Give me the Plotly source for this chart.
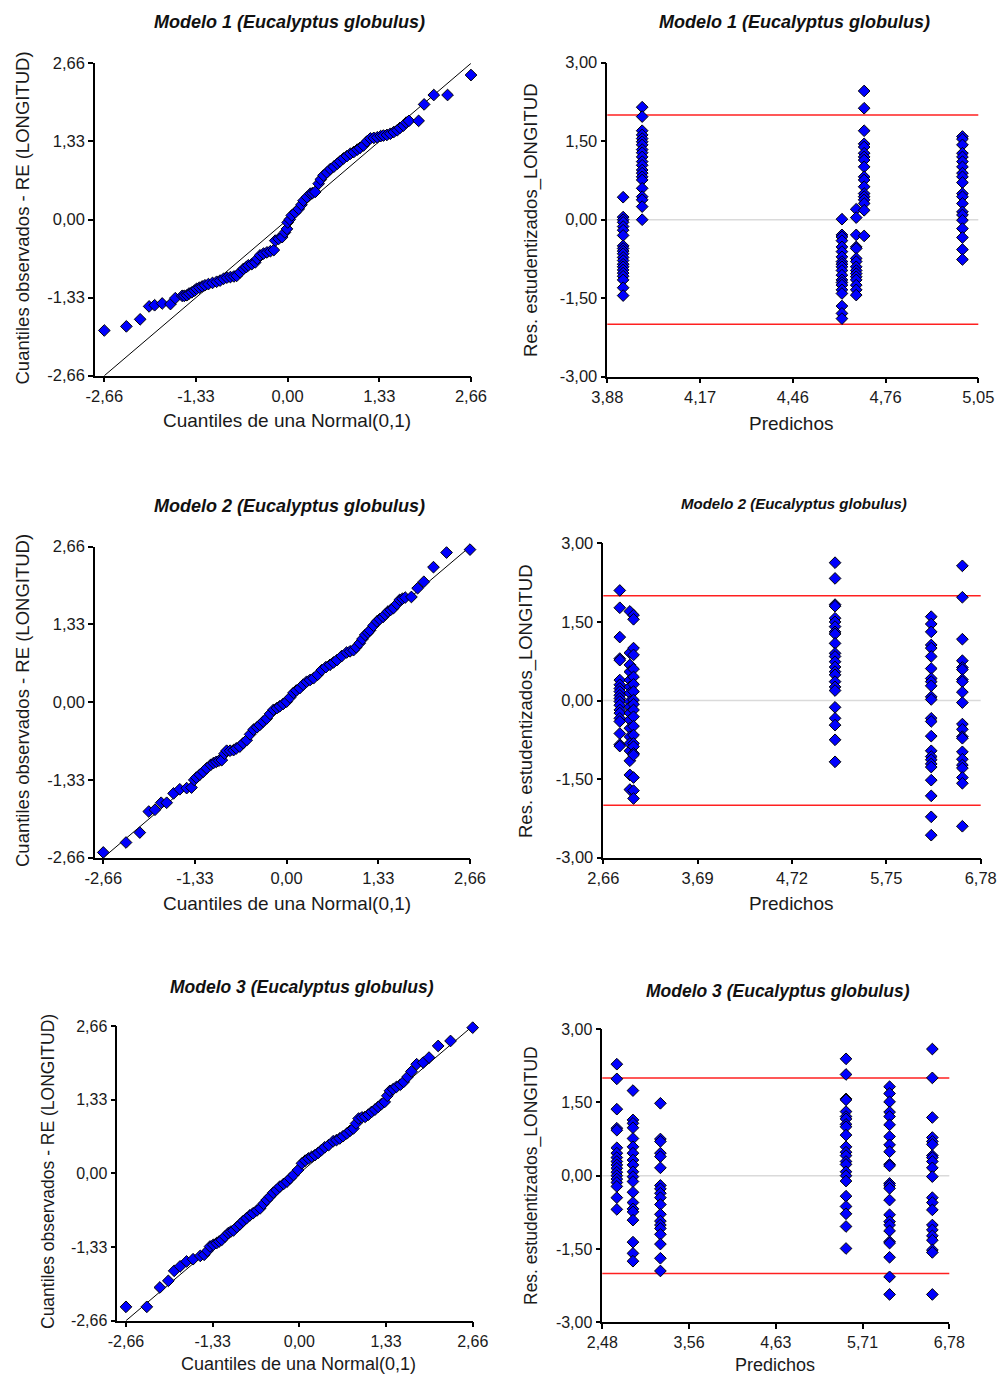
import plotly.graph_objects as go

W, H = 1000, 1375

# ---------------- data ----------------
qq_ticks = [-2.66, -1.33, 0.0, 1.33, 2.66]
qq_ticktext = ["-2,66", "-1,33", "0,00", "1,33", "2,66"]
res_yticks = [-3.0, -1.5, 0.0, 1.5, 3.0]
res_yticktext = ["-3,00", "-1,50", "0,00", "1,50", "3,00"]
qq_ref = [-2.66, 2.66]
res_limits = [-2.0, 2.0]

# Model 1 QQ: (theoretical quantile, observed quantile)
qq1_points = [
    (-2.66, -1.89), (-2.34, -1.82), (-2.14, -1.70), (-2.01, -1.48), (-1.93, -1.46),
    (-1.82, -1.43), (-1.70, -1.44), (-1.63, -1.34), (-1.53, -1.30), (-1.50, -1.30),
    (-1.46, -1.29), (-1.43, -1.26), (-1.39, -1.24), (-1.35, -1.21), (-1.32, -1.18),
    (-1.28, -1.16), (-1.24, -1.14), (-1.20, -1.12), (-1.15, -1.10), (-1.09, -1.08),
    (-1.03, -1.06), (-0.98, -1.04), (-0.93, -1.01), (-0.88, -0.99), (-0.83, -0.98),
    (-0.78, -0.97), (-0.74, -0.96), (-0.69, -0.90), (-0.64, -0.84), (-0.60, -0.81),
    (-0.57, -0.78), (-0.52, -0.76), (-0.47, -0.73), (-0.44, -0.67), (-0.40, -0.61),
    (-0.35, -0.58), (-0.30, -0.56), (-0.25, -0.54), (-0.20, -0.52), (-0.18, -0.36),
    (-0.13, -0.33), (-0.08, -0.30), (-0.04, -0.22), (-0.01, -0.16), (0.00, -0.05),
    (0.03, 0.00), (0.06, 0.07), (0.11, 0.12), (0.16, 0.18), (0.20, 0.25),
    (0.23, 0.32), (0.28, 0.38), (0.33, 0.44), (0.36, 0.45), (0.40, 0.47),
    (0.45, 0.61), (0.48, 0.68), (0.52, 0.75), (0.57, 0.80), (0.62, 0.86),
    (0.67, 0.90), (0.72, 0.95), (0.76, 0.99), (0.81, 1.04), (0.86, 1.08),
    (0.91, 1.12), (0.96, 1.15), (1.01, 1.19), (1.05, 1.22), (1.10, 1.26),
    (1.15, 1.33), (1.20, 1.38), (1.25, 1.39), (1.30, 1.40), (1.35, 1.42),
    (1.39, 1.43), (1.44, 1.44), (1.49, 1.46), (1.54, 1.49), (1.59, 1.52),
    (1.63, 1.56), (1.68, 1.60), (1.72, 1.65), (1.76, 1.68), (1.90, 1.68),
    (1.98, 1.96), (2.12, 2.12), (2.32, 2.12), (2.66, 2.46),
]

# Model 2 QQ
qq2_points = [
    (-2.66, -2.57), (-2.33, -2.40), (-2.13, -2.23), (-2.00, -1.87), (-1.91, -1.84),
    (-1.82, -1.72), (-1.74, -1.72), (-1.64, -1.56), (-1.55, -1.49), (-1.45, -1.47),
    (-1.38, -1.46), (-1.34, -1.33), (-1.31, -1.29), (-1.26, -1.24), (-1.21, -1.19),
    (-1.16, -1.13), (-1.10, -1.07), (-1.06, -1.04), (-1.02, -1.02), (-0.98, -1.00),
    (-0.94, -0.99), (-0.90, -0.88), (-0.87, -0.83), (-0.82, -0.83), (-0.77, -0.82),
    (-0.73, -0.79), (-0.68, -0.76), (-0.63, -0.70), (-0.58, -0.65), (-0.53, -0.55),
    (-0.48, -0.47), (-0.43, -0.43), (-0.39, -0.39), (-0.34, -0.33), (-0.29, -0.28),
    (-0.24, -0.20), (-0.19, -0.13), (-0.14, -0.10), (-0.10, -0.07), (-0.05, -0.03),
    (0.00, 0.01), (0.05, 0.08), (0.10, 0.16), (0.14, 0.20), (0.19, 0.24),
    (0.24, 0.30), (0.29, 0.35), (0.34, 0.38), (0.39, 0.41), (0.45, 0.47),
    (0.51, 0.55), (0.57, 0.60), (0.63, 0.64), (0.68, 0.68), (0.73, 0.72),
    (0.80, 0.79), (0.87, 0.85), (0.92, 0.87), (0.97, 0.89), (1.01, 0.94),
    (1.06, 1.01), (1.10, 1.08), (1.14, 1.15), (1.18, 1.19), (1.21, 1.23),
    (1.26, 1.31), (1.31, 1.38), (1.35, 1.42), (1.40, 1.46), (1.43, 1.50),
    (1.47, 1.55), (1.51, 1.58), (1.55, 1.61), (1.60, 1.68), (1.64, 1.75),
    (1.68, 1.77), (1.72, 1.79), (1.81, 1.80), (1.90, 1.95), (1.99, 2.06),
    (2.13, 2.31), (2.32, 2.56), (2.66, 2.61),
]

# Model 3 QQ
qq3_points = [
    (-2.66, -2.41), (-2.34, -2.41), (-2.14, -2.06), (-2.01, -1.94), (-1.92, -1.76),
    (-1.83, -1.68), (-1.73, -1.59), (-1.63, -1.55), (-1.52, -1.49), (-1.46, -1.47),
    (-1.41, -1.40), (-1.37, -1.32), (-1.32, -1.29), (-1.27, -1.26), (-1.23, -1.23),
    (-1.19, -1.20), (-1.14, -1.14), (-1.09, -1.08), (-1.05, -1.05), (-1.01, -1.03),
    (-0.96, -0.97), (-0.91, -0.92), (-0.86, -0.86), (-0.81, -0.81), (-0.76, -0.76),
    (-0.71, -0.72), (-0.65, -0.67), (-0.60, -0.63), (-0.55, -0.55), (-0.50, -0.48),
    (-0.45, -0.42), (-0.40, -0.35), (-0.35, -0.30), (-0.30, -0.24), (-0.24, -0.19),
    (-0.19, -0.15), (-0.14, -0.09), (-0.09, -0.03), (-0.02, 0.06), (0.04, 0.18),
    (0.09, 0.23), (0.14, 0.27), (0.19, 0.30), (0.24, 0.33), (0.29, 0.37),
    (0.34, 0.42), (0.39, 0.47), (0.45, 0.51), (0.52, 0.58), (0.57, 0.60),
    (0.62, 0.63), (0.67, 0.67), (0.73, 0.72), (0.78, 0.77), (0.83, 0.81),
    (0.87, 0.90), (0.91, 0.99), (0.96, 1.01), (1.01, 1.02), (1.06, 1.06),
    (1.11, 1.11), (1.16, 1.15), (1.21, 1.20), (1.26, 1.25), (1.31, 1.29),
    (1.35, 1.40), (1.39, 1.49), (1.44, 1.52), (1.49, 1.56), (1.55, 1.60),
    (1.60, 1.65), (1.66, 1.74), (1.72, 1.84), (1.80, 1.97), (1.90, 2.00),
    (1.99, 2.09), (2.13, 2.30), (2.32, 2.39), (2.66, 2.63),
]

# Model 1 residuals vs predicted
m1_xticks = [3.88, 4.1725, 4.465, 4.7575, 5.05]
m1_xticktext = ["3,88", "4,17", "4,46", "4,76", "5,05"]
m1_pred = [3.93, 3.99, 4.62, 4.665, 4.69, 5.00]
m1_res = [
    [0.43, 0.05, 0.0, -0.05, -0.13, -0.2, -0.3, -0.5, -0.55, -0.6, -0.65, -0.72,
     -0.78, -0.85, -0.9, -0.96, -1.02, -1.08, -1.15, -1.3, -1.45],
    [2.15, 1.97, 1.70, 1.62, 1.55, 1.49, 1.43, 1.34, 1.28, 1.2, 1.11, 1.04, 0.95,
     0.89, 0.82, 0.76, 0.6, 0.44, 0.38, 0.25, 0.0],
    [0.01, -0.29, -0.33, -0.4, -0.52, -0.61, -0.71, -0.8, -0.85, -0.9, -0.97,
     -1.06, -1.15, -1.2, -1.25, -1.34, -1.41, -1.65, -1.79, -1.89],
    [0.2, 0.04, -0.29, -0.52, -0.55, -0.74, -0.8, -0.9, -0.97, -1.03, -1.09,
     -1.15, -1.25, -1.34, -1.44],
    [2.46, 2.13, 1.70, 1.45, 1.39, 1.27, 1.2, 1.14, 1.01, 0.82, 0.76, 0.63, 0.5,
     0.44, 0.38, 0.31, 0.18, -0.31],
    [1.59, 1.54, 1.43, 1.27, 1.2, 1.11, 1.01, 0.89, 0.82, 0.71, 0.5, 0.44, 0.31,
     0.15, 0.09, -0.01, -0.17, -0.34, -0.57, -0.76],
]

# Model 2 residuals vs predicted
m2_xticks = [2.66, 3.69, 4.72, 5.75, 6.78]
m2_xticktext = ["2,66", "3,69", "4,72", "5,75", "6,78"]
m2_pred = [2.84, 2.95, 2.99, 5.19, 6.24, 6.58]
m2_res = [
    [2.1, 1.77, 1.21, 0.80, 0.77, 0.39, 0.3, 0.23, 0.17, 0.1, 0.04, -0.02, -0.09,
     -0.18, -0.24, -0.34, -0.4, -0.63, -0.84, -0.87],
    [1.70, 0.91, 0.68, 0.55, 0.39, 0.26, 0.14, -0.02, -0.12, -0.24, -0.37, -0.53,
     -0.69, -0.82, -0.96, -1.15, -1.42, -1.7],
    [1.63, 1.55, 1.0, 0.87, 0.6, 0.45, 0.31, 0.17, 0.01, -0.07, -0.18, -0.31,
     -0.49, -0.66, -0.82, -0.88, -1.01, -1.04, -1.47, -1.72, -1.87],
    [2.63, 2.33, 1.83, 1.8, 1.57, 1.5, 1.41, 1.31, 1.27, 1.09, 0.9, 0.84, 0.74,
     0.64, 0.55, 0.49, 0.36, 0.26, 0.19, -0.13, -0.34, -0.47, -0.75, -1.17],
    [1.6, 1.46, 1.31, 1.06, 1.0, 0.84, 0.61, 0.42, 0.36, 0.28, 0.07, 0.02, -0.34,
     -0.4, -0.68, -0.96, -1.07, -1.13, -1.21, -1.27, -1.52, -1.82, -2.22, -2.57],
    [2.57, 1.97, 1.17, 0.76, 0.63, 0.59, 0.4, 0.36, 0.16, -0.04, -0.45, -0.55,
     -0.69, -0.72, -0.98, -1.12, -1.23, -1.29, -1.47, -1.58, -2.4],
]

# Model 3 residuals vs predicted
m3_xticks = [2.48, 3.555, 4.63, 5.705, 6.78]
m3_xticktext = ["2,48", "3,56", "4,63", "5,71", "6,78"]
m3_pred = [2.66, 2.86, 3.20, 5.50, 6.04, 6.57]
m3_res = [
    [2.28, 1.98, 1.36, 0.97, 0.93, 0.57, 0.46, 0.37, 0.29, 0.22, 0.15, 0.07, 0.0,
     -0.07, -0.14, -0.22, -0.45, -0.69],
    [1.74, 1.14, 1.07, 0.98, 0.76, 0.59, 0.46, 0.32, 0.22, 0.08, -0.02, -0.12,
     -0.34, -0.55, -0.68, -0.74, -0.91, -1.36, -1.59, -1.75],
    [1.48, 0.75, 0.7, 0.46, 0.39, 0.16, -0.2, -0.27, -0.36, -0.45, -0.59, -0.79,
     -0.93, -1.01, -1.08, -1.2, -1.4, -1.69, -1.95],
    [2.39, 2.07, 1.57, 1.55, 1.31, 1.21, 1.16, 1.05, 1.0, 0.83, 0.59, 0.48, 0.41,
     0.29, 0.23, 0.08, 0.0, -0.11, -0.42, -0.63, -0.78, -1.04, -1.49],
    [1.82, 1.68, 1.51, 1.3, 1.21, 1.04, 0.8, 0.63, 0.49, 0.23, 0.2, -0.16, -0.2,
     -0.26, -0.5, -0.8, -0.94, -1.01, -1.13, -1.35, -1.38, -1.67, -2.07, -2.43],
    [2.59, 2.0, 1.19, 0.78, 0.7, 0.64, 0.41, 0.37, 0.29, 0.16, -0.02, -0.45,
     -0.55, -0.7, -1.01, -1.11, -1.23, -1.32, -1.52, -1.57, -2.43],
]

titles = ["Modelo 1 (Eucalyptus globulus)", "Modelo 1 (Eucalyptus globulus)",
          "Modelo 2 (Eucalyptus globulus)", "Modelo 2 (Eucalyptus globulus)",
          "Modelo 3 (Eucalyptus globulus)", "Modelo 3 (Eucalyptus globulus)"]
qq_xtitle = "Cuantiles de una Normal(0,1)"
qq_ytitle = "Cuantiles observados - RE (LONGITUD)"
res_xtitle = "Predichos"
res_ytitle = "Res. estudentizados_LONGITUD"

# ---------------- layout helpers ----------------
FONT = "Liberation Sans, Arial, sans-serif"


def dx(a, b):
    return [a / W, b / W]


def dy(top, bottom):
    return [1 - bottom / H, 1 - top / H]


def px(x):
    return x / W


def py(y):
    return 1 - y / H


fig = go.Figure()

marker = dict(symbol="diamond", size=9, color="#0000ff",
              line=dict(color="#000000", width=1))

panels = [
    (dx(95, 471), dy(63.3, 375.7), [-2.795, 2.66], [-2.66, 2.66], qq_ticks, qq_ticktext, qq_ticks, qq_ticktext, 16.5),
    (dx(607.3, 978.3), dy(62.7, 376.7), [3.88, 5.05], [-3, 3], m1_xticks, m1_xticktext, res_yticks, res_yticktext, 16.5),
    (dx(95, 470), dy(546.7, 857.7), [-2.78, 2.66], [-2.66, 2.66], qq_ticks, qq_ticktext, qq_ticks, qq_ticktext, 16.5),
    (dx(603.3, 980.7), dy(543.3, 857.7), [2.66, 6.78], [-3, 3], m2_xticks, m2_xticktext, res_yticks, res_yticktext, 16.5),
    (dx(117.3, 472.7), dy(1026, 1320.7), [-2.793, 2.66], [-2.66, 2.66], qq_ticks, qq_ticktext, qq_ticks, qq_ticktext, 16),
    (dx(602.3, 949.3), dy(1029, 1322.3), [2.48, 6.78], [-3, 3], m3_xticks, m3_xticktext, res_yticks, res_yticktext, 16),
]

layout_axes = {}
for i, (xd, yd, xr, yr, xt, xtt, yt, ytt, fs) in enumerate(panels, start=1):
    sfx = "" if i == 1 else str(i)
    common = dict(showline=True, linecolor="#000000", linewidth=1.5,
                  ticks="outside", ticklen=5, tickwidth=1.5, tickcolor="#000000",
                  showgrid=False, zeroline=False, fixedrange=True, automargin=False,
                  tickfont=dict(family=FONT, size=fs, color="#1a1a1a"))
    layout_axes["xaxis" + sfx] = dict(domain=xd, range=xr, tickvals=xt, ticktext=xtt,
                                      anchor="y" + sfx, **common)
    layout_axes["yaxis" + sfx] = dict(domain=yd, range=yr, tickvals=yt, ticktext=ytt,
                                      anchor="x" + sfx, **common)

# QQ panels
for i, pts in zip([1, 3, 5], [qq1_points, qq2_points, qq3_points]):
    sfx = "" if i == 1 else str(i)
    fig.add_trace(go.Scatter(x=qq_ref, y=qq_ref, mode="lines",
                             line=dict(color="#000000", width=1),
                             xaxis="x" + sfx, yaxis="y" + sfx, showlegend=False,
                             hoverinfo="skip"))
    fig.add_trace(go.Scatter(x=[p[0] for p in pts], y=[p[1] for p in pts],
                             mode="markers", marker=marker,
                             xaxis="x" + sfx, yaxis="y" + sfx, showlegend=False,
                             cliponaxis=False))

# residual panels
shapes = []
for i, (preds, groups) in zip([2, 4, 6], [(m1_pred, m1_res), (m2_pred, m2_res), (m3_pred, m3_res)]):
    sfx = str(i)
    shapes.append(dict(type="line", xref="x%s domain" % sfx, yref="y" + sfx,
                       x0=0, x1=1, y0=0, y1=0, layer="below",
                       line=dict(color="#dadada", width=1.5)))
    for lim in res_limits:
        shapes.append(dict(type="line", xref="x%s domain" % sfx, yref="y" + sfx,
                           x0=0, x1=1, y0=lim, y1=lim, layer="below",
                           line=dict(color="#ff2020", width=1.5)))
    xs, ys = [], []
    for p, g in zip(preds, groups):
        xs.extend([p] * len(g))
        ys.extend(g)
    fig.add_trace(go.Scatter(x=xs, y=ys, mode="markers", marker=marker,
                             xaxis="x" + sfx, yaxis="y" + sfx, showlegend=False,
                             cliponaxis=False))

# annotations: titles and axis titles
ann = []
title_pos = [(289, 22, 18), (794.5, 22, 18), (289, 506, 18),
             (793.5, 504, 15), (301.5, 987, 17.5), (777.5, 991, 17.5)]
for t, (x, y, s) in zip(titles, title_pos):
    ann.append(dict(text="<b><i>%s</i></b>" % t, x=px(x), y=py(y), xref="paper", yref="paper",
                    xanchor="center", yanchor="middle", showarrow=False,
                    font=dict(family=FONT, size=s, color="#111111")))

xtitle_pos = [(qq_xtitle, 286.5, 421, 19), (res_xtitle, 791.5, 423, 19),
              (qq_xtitle, 286.5, 904, 19), (res_xtitle, 791, 904, 19),
              (qq_xtitle, 298.5, 1364, 18), (res_xtitle, 775, 1365, 18)]
for t, x, y, s in xtitle_pos:
    ann.append(dict(text=t, x=px(x), y=py(y), xref="paper", yref="paper",
                    xanchor="center", yanchor="middle", showarrow=False,
                    font=dict(family=FONT, size=s, color="#1a1a1a")))

ytitle_pos = [(qq_ytitle, 22, 218.5, 18.5), (res_ytitle, 531, 220, 18.5),
              (qq_ytitle, 22, 701, 18.5), (res_ytitle, 526, 701, 18.5),
              (qq_ytitle, 48, 1172, 17.5), (res_ytitle, 531, 1176, 17.5)]
for t, x, y, s in ytitle_pos:
    ann.append(dict(text=t, x=px(x), y=py(y), xref="paper", yref="paper",
                    xanchor="center", yanchor="middle", showarrow=False, textangle=-90,
                    font=dict(family=FONT, size=s, color="#1a1a1a")))

fig.update_layout(template="none", width=W, height=H, margin=dict(l=0, r=0, t=0, b=0, pad=0),
                  paper_bgcolor="white", plot_bgcolor="white",
                  showlegend=False, shapes=shapes, annotations=ann,
                  font=dict(family=FONT), **layout_axes)

fig.write_html("out.html", config={"displayModeBar": False},
               post_script="document.body.style.margin='0px';document.body.style.padding='0px';")
